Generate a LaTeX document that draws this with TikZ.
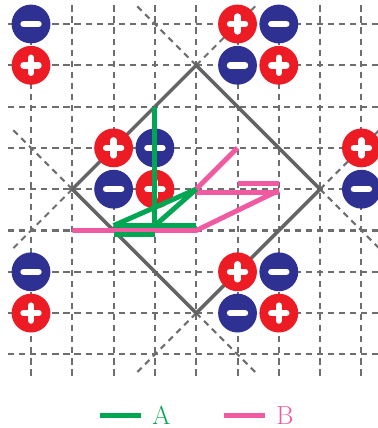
\documentclass[tikz,border=0pt]{standalone}
\usepackage{tikz}
\usetikzlibrary{positioning}
\definecolor{chred}{RGB}{237,28,36}
\definecolor{chblue}{RGB}{46,49,146}
\definecolor{lineA}{RGB}{0,166,81}
\definecolor{lineB}{RGB}{240,90,160}
\definecolor{gridgray}{RGB}{110,110,112}
\definecolor{rimgray}{RGB}{100,100,100}
\tikzset{
  gridln/.style={gridgray,line width=1.4pt,dash pattern=on 4.2pt off 3.4pt},
  rim/.style={rimgray,line width=2.4pt},
  sgn/.style={white,line width=4.5pt,line cap=round},
  chgpos/.style={circle,fill=chred,minimum size=0.94cm,inner sep=0pt,
    path picture={
      \draw[sgn] ([xshift=-1.8mm]path picture bounding box.center) -- ([xshift=1.8mm]path picture bounding box.center);
      \draw[sgn] ([yshift=-1.8mm]path picture bounding box.center) -- ([yshift=1.8mm]path picture bounding box.center);}},
  chgneg/.style={circle,fill=chblue,minimum size=0.94cm,inner sep=0pt,
    path picture={
      \draw[sgn] ([xshift=-1.8mm]path picture bounding box.center) -- ([xshift=1.8mm]path picture bounding box.center);}},
  trA/.style={lineA,line width=3.4pt},
  trB/.style={lineB,line width=3.4pt},
  lbl/.style={font=\fontsize{18}{20}\selectfont,inner sep=0pt},
}

\begin{document}
\begin{tikzpicture}
\useasboundingbox (-0.751,0.581) rectangle (8.378,-9.782);
\foreach \i in {0,...,8} {
  \draw[gridln] (\i,0.45) -- (\i,-8.55);
  \draw[gridln] (-0.55,-\i) -- (8.55,-\i);
}
\coordinate (top) at (4,-1);
\coordinate (rt) at (7,-4);
\coordinate (bot) at (4,-7);
\coordinate (lft) at (1,-4);
\draw[gridln] (top) -- (2.5,0.5);
\draw[gridln] (top) -- (5.5,0.5);
\draw[gridln] (rt) -- (8.5,-2.5);
\draw[gridln] (rt) -- (8.5,-5.5);
\draw[gridln] (bot) -- (2.5,-8.5);
\draw[gridln] (bot) -- (5.5,-8.5);
\draw[gridln] (lft) -- (-0.5,-2.5);
\draw[gridln] (lft) -- (-0.5,-5.5);
\draw[rim] (top) -- (rt) -- (bot) -- (lft) -- cycle;

\foreach \x/\y in {0/1,5/0,6/1,2/3,3/4,8/3,0/7,5/6,6/7}
  \node[chgpos] (p\x\y) at (\x,-\y) {};
\foreach \x/\y in {0/0,6/0,5/1,3/3,2/4,8/4,0/6,6/6,5/7}
  \node[chgneg] (m\x\y) at (\x,-\y) {};

\coordinate (o) at (4,-4);
\draw[trB] (1,-5) -- (4,-5) -- (6,-4.03);
\draw[trB] (4,-4.09) -- (6,-4.09);
\draw[trB] (5,-3.87) -- (6,-3.87);
\draw[trB] (o) -- (5,-3);
\draw[trA] (3,-2) -- (3,-4.88);
\draw[trA] (2,-4.88) -- (4,-4.88);
\draw[trA] (2,-5.1) -- (3,-5.1);
\draw[trA] (2,-4.88) -- (o);
\draw[trA] (3,-4.88) -- (o);

\coordinate (keyA) at (1.66,-9.47);
\draw[trA] (keyA) -- ++(1,0);
\node[lbl,text=lineA] (labA) at (3.16,-9.47) {A};
\coordinate (keyB) at (4.67,-9.47);
\draw[trB] (keyB) -- ++(1,0);
\node[lbl,text=lineB] (labB) at (6.15,-9.47) {B};
\end{tikzpicture}
\end{document}
